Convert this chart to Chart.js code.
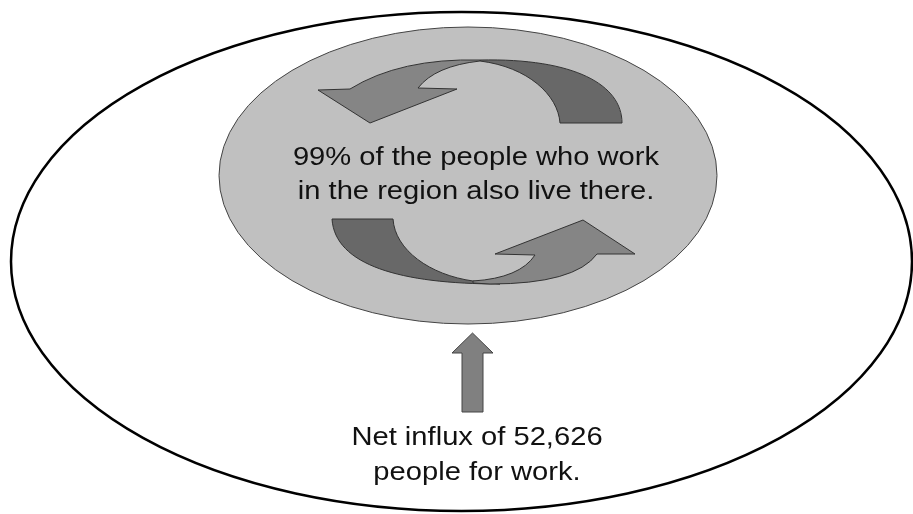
<!DOCTYPE html>
<html>
<head>
<meta charset="utf-8">
<script src="https://cdn.jsdelivr.net/npm/chart.js@4/dist/chart.umd.min.js"></script>
<style>
  html, body { margin: 0; padding: 0; background: #fff; }
  #wrap { width: 913px; height: 514px; }
</style>
</head>
<body>
<div id="wrap"><canvas id="diagram" width="913" height="514"></canvas></div>
<script>
// figures
const shareLocal = 99;
const netInflux = 52626;

const centreLines = [shareLocal + "% of the people who work", "in the region also live there."];
const influxLines = ["Net influx of " + netInflux.toLocaleString("en-US"), "people for work."];

// shapes, in the chart's own data units (x 0..913, y 0..514 downwards)
const regionOval = [461.5, 261.5, 450.5, 249.5];   // cx, cy, rx, ry
const workOval = [468, 175.5, 249, 148.5];

const topBack = [["M", 480, 60], ["C", 575, 58, 622, 85, 622, 123], ["L", 560, 123], ["C", 558, 95, 528, 67, 480, 61]];
const topFront = [["M", 480, 60], ["Q", 400, 58, 350, 89], ["L", 318, 90], ["L", 370, 123], ["L", 457, 89], ["L", 418, 88], ["Q", 435, 66, 480, 61]];
const lowBack = [["M", 332, 219], ["L", 393, 219], ["C", 395, 250, 430, 275, 473, 281], ["L", 500, 284], ["C", 400, 284, 335, 265, 332, 219]];
const lowFront = [["M", 473, 281], ["Q", 520, 278, 535, 255], ["L", 495, 254], ["L", 583, 220], ["L", 635, 254], ["L", 597, 254], ["Q", 575, 284, 490, 284], ["L", 473, 283]];
const influxArrow = [["M", 462, 412], ["L", 462, 353], ["L", 452, 353], ["L", 472.5, 333], ["L", 493, 353], ["L", 483, 353], ["L", 483, 412]];

const centreTextAt = [476, 164.5, 34];   // x, first baseline, line step
const influxTextAt = [477, 445, 35];

function toPx(chart, x, y) {
  return [chart.scales.x.getPixelForValue(x), chart.scales.y.getPixelForValue(y)];
}

function oval(chart, o, fill, stroke, width) {
  const ctx = chart.ctx;
  const [cx, cy] = toPx(chart, o[0], o[1]);
  const [ex, ey] = toPx(chart, o[0] + o[2], o[1] + o[3]);
  ctx.beginPath();
  ctx.ellipse(cx, cy, Math.abs(ex - cx), Math.abs(ey - cy), 0, 0, Math.PI * 2);
  if (fill) { ctx.fillStyle = fill; ctx.fill(); }
  ctx.lineWidth = width;
  ctx.strokeStyle = stroke;
  ctx.stroke();
}

function shape(chart, segs, fill, stroke) {
  const ctx = chart.ctx;
  ctx.beginPath();
  segs.forEach(s => {
    const pts = [];
    for (let i = 1; i < s.length; i += 2) pts.push(...toPx(chart, s[i], s[i + 1]));
    if (s[0] === "M") ctx.moveTo(...pts);
    else if (s[0] === "L") ctx.lineTo(...pts);
    else if (s[0] === "Q") ctx.quadraticCurveTo(...pts);
    else ctx.bezierCurveTo(...pts);
  });
  ctx.closePath();
  ctx.fillStyle = fill;
  ctx.fill();
  ctx.lineWidth = 1;
  ctx.strokeStyle = stroke;
  ctx.stroke();
}

function lines(chart, texts, at) {
  const ctx = chart.ctx;
  ctx.font = "26.5px 'Liberation Sans', Arial, sans-serif";
  ctx.fillStyle = "#111";
  ctx.textAlign = "center";
  ctx.textBaseline = "alphabetic";
  texts.forEach((t, i) => {
    const [x, y] = toPx(chart, at[0], at[1] + i * at[2]);
    ctx.save();
    ctx.translate(x, y);
    ctx.scale(1.1, 1);
    ctx.fillText(t, 0, 0);
    ctx.restore();
  });
}

const diagramPlugin = {
  id: "commuteDiagram",
  afterDraw(chart) {
    const ctx = chart.ctx;
    ctx.save();
    oval(chart, regionOval, null, "#000", 2.5);
    oval(chart, workOval, "#c0c0c0", "#444", 1);
    shape(chart, topBack, "#686868", "#333");
    shape(chart, topFront, "#858585", "#333");
    shape(chart, lowBack, "#686868", "#333");
    shape(chart, lowFront, "#858585", "#333");
    lines(chart, centreLines, centreTextAt);
    shape(chart, influxArrow, "#808080", "#444");
    lines(chart, influxLines, influxTextAt);
    ctx.restore();
  }
};

new Chart(document.getElementById("diagram"), {
  type: "scatter",
  data: { datasets: [] },
  options: {
    responsive: false,
    animation: false,
    layout: { padding: 0 },
    scales: {
      x: { type: "linear", min: 0, max: 913, display: false },
      y: { type: "linear", min: 0, max: 514, reverse: true, display: false }
    },
    plugins: { legend: { display: false }, tooltip: { enabled: false } }
  },
  plugins: [diagramPlugin]
});
</script>
</body>
</html>
